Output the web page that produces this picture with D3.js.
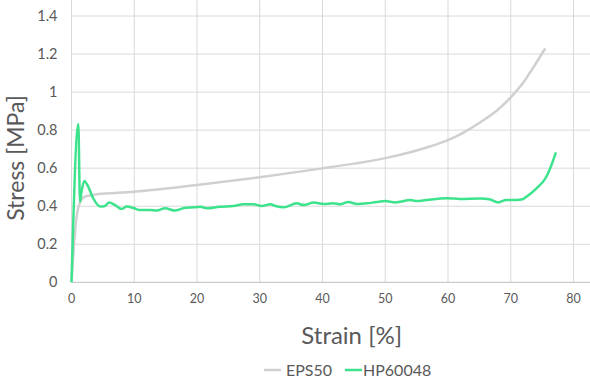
<!DOCTYPE html>
<html><head><meta charset="utf-8">
<script src="https://cdn.jsdelivr.net/npm/d3@7"></script>
<style>
html,body{margin:0;padding:0;background:#fff;}
svg{display:block;font-family:Lato,"Open Sans",sans-serif;}
</style></head>
<body>
<svg id="c" width="590" height="383"></svg>
<script>
// Data
const seriesNames = ["EPS50", "HP60048"];
const epsStrain = [0,0.3,0.8,1.35,2.1,3.5,6,10,20,30,40,45,50,54,57.1,59.8,62.4,65.1,67.8,70,72,73.6,75.5];
const epsStress = [0,0.15,0.34,0.42,0.45,0.46,0.468,0.476,0.511,0.552,0.599,0.624,0.653,0.684,0.714,0.745,0.786,0.84,0.903,0.972,1.05,1.13,1.23];
const hpStrain = [0,1.09,1.35,1.6,2.03,2.66,3.46,4.63,5.32,6.0,6.9,8.0,8.8,10.0,10.9,12.5,13.6,14.9,16.5,17.8,19.4,20.5,21.6,23.6,25.8,27.4,29.0,30.3,31.7,32.5,33.8,35.9,37.0,38.6,40.2,41.7,42.8,44.1,45.5,47.1,48.6,50.0,51.6,52.4,54.0,55.0,56.6,59.8,61.9,65.1,66.6,68.0,69.3,70.9,71.9,72.5,74.1,75.7,76.4,77.2];
const hpStress = [0,0.832,0.424,0.477,0.532,0.503,0.442,0.398,0.401,0.420,0.407,0.385,0.398,0.389,0.380,0.380,0.377,0.389,0.377,0.389,0.394,0.397,0.389,0.397,0.401,0.410,0.410,0.401,0.410,0.401,0.394,0.415,0.406,0.419,0.412,0.415,0.410,0.422,0.412,0.415,0.422,0.427,0.420,0.424,0.433,0.427,0.433,0.442,0.438,0.440,0.437,0.420,0.433,0.433,0.437,0.450,0.494,0.556,0.609,0.683];
const xTicks = [0,10,20,30,40,50,60,70,80];
const yTicks = [0,0.2,0.4,0.6,0.8,1,1.2,1.4];
const colors = ["#d0d0d0", "#3de38c"];

const svg = d3.select("#c");
const x0 = 71.5, x1 = 590, yB = 282.3, yT = 0;
const x = d3.scaleLinear().domain([0, 80]).range([x0, x0 + 80*6.275]);
const y = d3.scaleLinear().domain([0, 1.4]).range([yB, yB - 7*38.04]);
const xMax = x.invert(x1), yMax = y.invert(yT);

// gridlines
const g = svg.append("g");
g.selectAll(".hg").data(yTicks.filter(d=>d>0)).join("line")
  .attr("x1", x(0)).attr("x2", x(xMax)).attr("y1", d=>y(d)).attr("y2", d=>y(d))
  .attr("stroke", "#d9d9d9").attr("stroke-width", 1);
g.selectAll(".vg").data(xTicks.filter(d=>d>0)).join("line")
  .attr("x1", d=>x(d)).attr("x2", d=>x(d)).attr("y1", y(0)).attr("y2", y(yMax))
  .attr("stroke", "#d9d9d9").attr("stroke-width", 1);
// axes lines
svg.append("line").attr("x1", x(0)).attr("x2", x(xMax)).attr("y1", y(0)).attr("y2", y(0)).attr("stroke", "#bfbfbf");
svg.append("line").attr("x1", x(0)).attr("x2", x(0)).attr("y1", y(0)).attr("y2", y(yMax)).attr("stroke", "#d9d9d9");

// tick labels
svg.append("g").selectAll("text").data(xTicks).join("text")
  .attr("x", d=>x(d)).attr("y", 303.3).attr("text-anchor", "middle")
  .attr("font-size", 12.5).attr("fill", "#595959").text(d=>d);
svg.append("g").selectAll("text").data(yTicks).join("text")
  .attr("x", 57.5).attr("y", d=>y(d)+5).attr("text-anchor", "end")
  .attr("font-size", 14.5).attr("fill", "#595959").text(d=>d);

// titles
svg.append("text").attr("x", 351.7).attr("y", 344).attr("text-anchor", "middle")
  .attr("font-size", 24).attr("fill", "#595959").text("Strain [%]");
svg.append("text").attr("transform", "translate(23.5,158) rotate(-90)").attr("text-anchor", "middle")
  .attr("font-size", 23).attr("fill", "#595959").text("Stress [MPa]");

// series
const line = d3.line().x(d=>x(d[0])).y(d=>y(d[1])).curve(d3.curveMonotoneX);
const eps = epsStrain.map((v,i)=>[v, epsStress[i]]);
const hp = hpStrain.map((v,i)=>[v, hpStress[i]]);
svg.append("path").datum(eps).attr("d", line).attr("fill", "none")
  .attr("stroke", colors[0]).attr("stroke-width", 2.5).attr("stroke-linejoin", "round");
svg.append("path").datum(hp).attr("d", line).attr("fill", "none")
  .attr("stroke", colors[1]).attr("stroke-width", 2.5).attr("stroke-linejoin", "round");

// legend
const leg = [{n: seriesNames[0], c: colors[0], lx: 264, tx: 286}, {n: seriesNames[1], c: colors[1], lx: 345, tx: 363}];
const lg = svg.append("g");
leg.forEach(d=>{
  lg.append("line").attr("x1", d.lx).attr("x2", d.lx+17).attr("y1", 370).attr("y2", 370)
    .attr("stroke", d.c).attr("stroke-width", 2.5);
  lg.append("text").attr("x", d.tx).attr("y", 376).attr("font-size", 16)
    .attr("fill", "#595959").text(d.n);
});
</script>
</body></html>
